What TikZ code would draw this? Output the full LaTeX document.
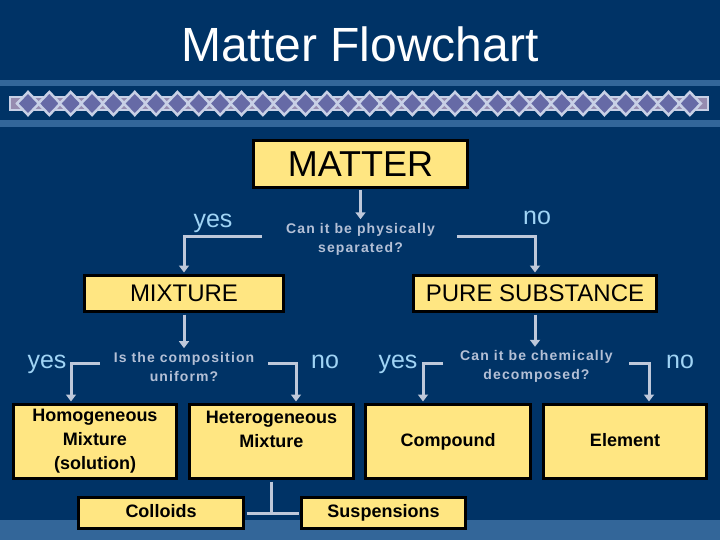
\documentclass[tikz,border=0pt]{standalone}
\usepackage{fontspec}
\setmainfont{Liberation Sans}
\usetikzlibrary{arrows.meta}
\definecolor{bg}{RGB}{0,51,102}
\definecolor{band}{RGB}{51,102,153}
\definecolor{boxy}{RGB}{255,230,130}
\definecolor{conn}{RGB}{190,200,218}
\definecolor{qtext}{RGB}{180,192,214}
\definecolor{yncol}{RGB}{160,212,245}
\definecolor{dia}{RGB}{102,106,166}
\definecolor{strip}{RGB}{150,140,176}
\definecolor{lite}{RGB}{200,208,230}
\begin{document}
\begin{tikzpicture}[x=1pt,y=-1pt,
  box/.style={draw=black,line width=3pt,fill=boxy,text=black,align=center,inner sep=0pt},
  bigtxt/.style={font=\fontsize{24}{28}\selectfont},
  smalltxt/.style={font=\fontsize{18}{24}\selectfont\bfseries},
  oneline/.style={text height=13pt,text depth=4pt},
  qnode/.style={text=qtext,font=\fontsize{14}{19}\selectfont\bfseries\addfontfeature{LetterSpace=8},align=center,inner sep=2pt},
  ynlabel/.style={text=yncol,font=\fontsize{25}{30}\selectfont,inner sep=0pt,anchor=base},
  arr/.style={draw=conn,line width=3pt,-{Triangle[width=10pt,length=7pt]},shorten >=1.5pt},
  plainline/.style={draw=conn,line width=3pt}]
% background
\fill[bg] (0,0) rectangle (720,540);
\useasboundingbox (0,0) rectangle (720,540);
\fill[band] (0,80) rectangle (720,86);
\fill[band] (0,120) rectangle (720,127);
\fill[band] (0,520) rectangle (720,540);
% diamond band
\draw[lite,line width=2.5pt,fill=strip] (10,97) rectangle (708,110);
\foreach \i in {0,...,31}{
  \pgfmathsetmacro{\cx}{28+\i*21.35}
  \draw[lite,line width=2.5pt,fill=dia] (\cx-11,103.5) -- (\cx,92) -- (\cx+11,103.5) -- (\cx,115) -- cycle;
}
% title
\node[text=white,font=\fontsize{48}{52}\selectfont,anchor=base,inner sep=0pt] (title) at (360,62) {Matter Flowchart};
% boxes
\node[box,minimum width=214pt,minimum height=47pt,font=\fontsize{36}{40}\selectfont] (matter) at (360.5,164) {MATTER};
\node[box,bigtxt,minimum width=199pt,minimum height=36pt] (mixture) at (184,293.5) {MIXTURE};
\node[box,bigtxt,minimum width=243pt,minimum height=36pt] (pure) at (535,293.5) {PURE SUBSTANCE};
\node[box,smalltxt,minimum width=163pt,minimum height=74pt] (homog) at (95,441.5) {Homogeneous\\Mixture\\(solution)};
\node[box,smalltxt,minimum width=164pt,minimum height=74pt] (hetero) at (271.5,441.5) {Heterogeneous\\Mixture\\~};
\node[box,smalltxt,oneline,minimum width=165pt,minimum height=74pt] (compound) at (448,441.5) {Compound};
\node[box,smalltxt,oneline,minimum width=163pt,minimum height=74pt] (element) at (625,441.5) {Element};
\node[box,smalltxt,oneline,minimum width=165pt,minimum height=31pt] (colloids) at (161,513) {Colloids};
\node[box,smalltxt,oneline,minimum width=164pt,minimum height=31pt] (susp) at (383.5,513) {Suspensions};
% questions
\node[qnode] (q1) at (360.5,239) {Can it be physically\\separated?};
\node[qnode] (q2) at (184,366.5) {Is the composition\\uniform?};
\node[qnode] (q3) at (536.5,366.5) {Can it be chemically\\decomposed?};
% yes / no labels
\node[ynlabel] (y1) at (213,227) {yes};
\node[ynlabel] (n1) at (537,225) {no};
\node[ynlabel] (y2) at (47,368) {yes};
\node[ynlabel] (n2) at (325,368) {no};
\node[ynlabel] (y3) at (398,368) {yes};
\node[ynlabel] (n3) at (680,368) {no};
% connectors
\draw[arr,shorten <=1.5pt] (matter.south) -- (matter.south |- q1.north);
\draw[arr] ([shift={(-98.5,-3)}]q1.center) -| (mixture.north);
\draw[arr] ([shift={(96.5,-3)}]q1.center) -| (pure.north);
\draw[arr,shorten <=1.5pt] (mixture.south) -- (mixture.south |- q2.north);
\draw[arr,shorten <=1.5pt] (pure.south) -- (pure.south |- q3.north);
\draw[arr] ([shift={(-84,-3.5)}]q2.center) -| ([xshift=-24pt]homog.north);
\draw[arr] ([shift={(84,-3.5)}]q2.center) -| ([xshift=24.5pt]hetero.north);
\draw[arr] ([shift={(-93.5,-3.5)}]q3.center) -| ([xshift=-25pt]compound.north);
\draw[arr] ([shift={(92.5,-3.5)}]q3.center) -| ([xshift=24pt]element.north);
\coordinate (junc) at (hetero.south |- colloids.east);
\draw[plainline,shorten <=1.5pt] (hetero.south) -- (junc);
\draw[plainline,shorten <=1.5pt,shorten >=1.5pt] (colloids.east) -- (susp.west);
\end{tikzpicture}
\end{document}
